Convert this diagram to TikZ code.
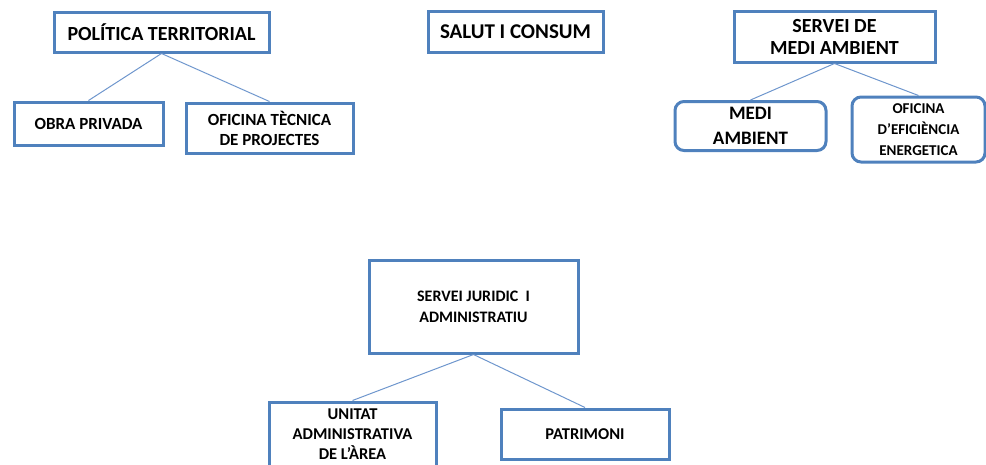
\documentclass[tikz,border=0pt]{standalone}
\usepackage{fontspec}
\setmainfont{Carlito}
\definecolor{boxblue}{RGB}{79,129,189}
\definecolor{lineblue}{RGB}{110,150,205}
\begin{document}
\begin{tikzpicture}[x=1pt, y=-1pt,
    unitat/.style ={rectangle, draw=boxblue, line width=3pt, fill=white,
      align=center, font=\bfseries, inner sep=0pt},
    arrodonit/.style ={unitat, rounded corners=9pt},
    enllac/.style ={draw=lineblue, line width=1pt}]
   \useasboundingbox (0,0) rectangle (986,464);
   \node[unitat, minimum width=215pt, minimum height=40pt, font=\bfseries\fontsize{20}{22}\selectfont]
      (PT)  at (161.5,32)  {POLÍTICA TERRITORIAL};
   \node[unitat, minimum width=149pt, minimum height=43pt, font=\bfseries\fontsize{17}{20}\selectfont]
      (OP)  at (88.5,123.5)  {OBRA PRIVADA};
   \node[unitat, minimum width=167pt, minimum height=50pt, font=\bfseries\fontsize{17}{20}\selectfont]
      (OT)  at (269.5,128)  {OFICINA TÈCNICA\\DE PROJECTES};
   \node[unitat, minimum width=175pt, minimum height=41pt, font=\bfseries\fontsize{21}{23}\selectfont]
      (SC)  at (515.5,31.5)  {SALUT I CONSUM};
   \node[unitat, minimum width=201pt, minimum height=51pt, font=\bfseries\fontsize{20}{22}\selectfont]
      (SM)  at (834.5,36.5)  {SERVEI DE\\MEDI AMBIENT};
   \node[arrodonit, minimum width=151pt, minimum height=49pt, font=\bfseries\fontsize{19}{25}\selectfont]
      (MA)  at (750.5,126)  {MEDI\\AMBIENT};
   \node[arrodonit, minimum width=133pt, minimum height=65pt, font=\bfseries\fontsize{15}{21}\selectfont]
      (OE)  at (918.5,129.5)  {OFICINA\\D’EFICIÈNCIA\\ENERGETICA};
   \node[unitat, minimum width=209pt, minimum height=93pt, font=\bfseries\fontsize{16}{21}\selectfont]
      (SJ)  at (473.5,306.5)  {SERVEI JURIDIC \ I\\ADMINISTRATIU};
   \node[unitat, minimum width=167pt, minimum height=64pt, font=\bfseries\fontsize{16.5}{20}\selectfont]
      (UA)  at (352.5,434)  {UNITAT\\ADMINISTRATIVA\\DE L’ÀREA};
   \node[unitat, minimum width=168pt, minimum height=50pt, font=\bfseries\fontsize{16.5}{19}\selectfont]
      (PA)  at (585,434)  {PATRIMONI};

   \draw[enllac] (PT.south) to  (OP.north);
   \draw[enllac] (PT.south) to  (OT.north);
   \draw[enllac] (SM.south) to  (MA.north);
   \draw[enllac] (SM.south) to  (OE.north);
   \draw[enllac] (SJ.south) to  (UA.north);
   \draw[enllac] (SJ.south) to  (PA.north);
 \end{tikzpicture}
\end{document}
